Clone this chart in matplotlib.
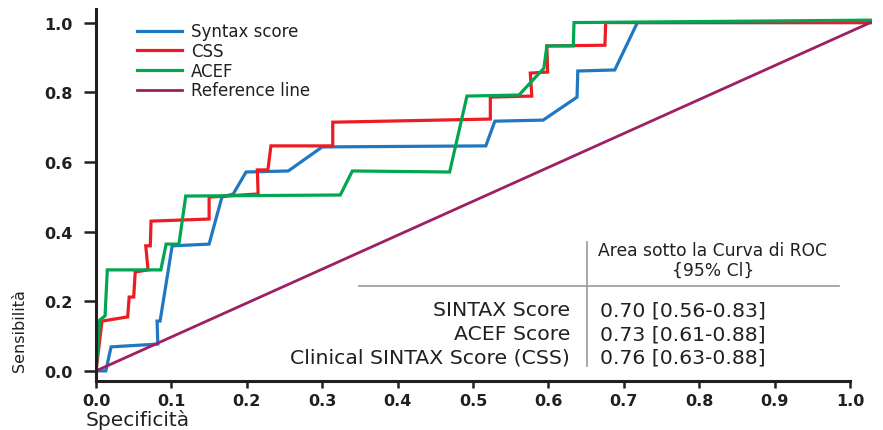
import numpy as np
import matplotlib
matplotlib.use('Agg')
import matplotlib.pyplot as plt
from matplotlib.lines import Line2D

plt.rcParams['font.family'] = ['DejaVu Sans']

# ROC curves (1 - specificity on x, sensitivity on y)
syntax_x = [0.0, 0.013, 0.020, 0.082, 0.081, 0.085, 0.101, 0.150, 0.167, 0.182, 0.199,
            0.255, 0.300, 0.517, 0.529, 0.593, 0.638, 0.639, 0.688, 0.718, 1.027]
syntax_y = [0.0, 0.0, 0.069, 0.077, 0.143, 0.143, 0.359, 0.364, 0.499, 0.508, 0.571,
            0.574, 0.643, 0.646, 0.717, 0.720, 0.786, 0.861, 0.864, 1.0, 1.0]

css_x = [0.0, 0.008, 0.042, 0.044, 0.050, 0.052, 0.069, 0.066, 0.072, 0.073, 0.150,
         0.150, 0.215, 0.214, 0.228, 0.232, 0.314, 0.314, 0.523, 0.523, 0.578, 0.576,
         0.599, 0.598, 0.675, 0.676, 1.027]
css_y = [0.0, 0.143, 0.155, 0.212, 0.212, 0.284, 0.290, 0.359, 0.359, 0.430, 0.436,
         0.499, 0.508, 0.577, 0.577, 0.646, 0.646, 0.714, 0.723, 0.786, 0.789, 0.855,
         0.858, 0.933, 0.935, 1.0, 1.0]

acef_x = [0.0, 0.005, 0.012, 0.015, 0.086, 0.093, 0.110, 0.119, 0.324, 0.340, 0.469,
          0.492, 0.561, 0.594, 0.598, 0.633, 0.634, 1.027]
acef_y = [0.0, 0.146, 0.158, 0.290, 0.290, 0.364, 0.364, 0.502, 0.505, 0.574, 0.571,
          0.789, 0.792, 0.869, 0.933, 0.933, 1.0, 1.007]

ref_x = [0.0, 1.027]
ref_y = [0.0, 1.0]

table_names = ['SINTAX Score', 'ACEF Score', 'Clinical SINTAX Score (CSS)']
table_auc = ['0.70 [0.56-0.83]', '0.73 [0.61-0.88]', '0.76 [0.63-0.88]']

W, H = 883, 431


def fx(px):
    return px / W


def fy(py):
    return 1 - py / H


fig = plt.figure(figsize=(W / 100, H / 100), dpi=100)
ax = fig.add_axes([fx(96), fy(382), (872.6 - 96) / W, (382 - 10) / H])

ax.plot(syntax_x, syntax_y, color='#1f78c1', lw=2.3, label='Syntax score', solid_joinstyle='miter')
ax.plot(css_x, css_y, color='#ed1c24', lw=2.3, label='CSS', solid_joinstyle='miter')
ax.plot(acef_x, acef_y, color='#00a651', lw=2.3, label='ACEF', solid_joinstyle='miter')
ax.plot(ref_x, ref_y, color='#9e1f63', lw=2.0, label='Reference line')

ax.set_xlim(0, 1.03)
ax.set_ylim(-0.029, 1.039)
for s in ['top', 'right']:
    ax.spines[s].set_visible(False)
ax.spines['bottom'].set_bounds(0, 1)
ax.spines['left'].set_linewidth(2.2)
ax.spines['bottom'].set_linewidth(2.2)
ax.spines['left'].set_color('#231f20')
ax.spines['bottom'].set_color('#231f20')

ax.set_xticks(np.arange(0, 1.01, 0.1))
ax.set_xticklabels(['%.1f' % v for v in np.arange(0, 1.01, 0.1)])
ax.set_yticks(np.arange(0, 1.01, 0.2))
ax.set_yticklabels(['%.1f' % v for v in np.arange(0, 1.01, 0.2)])
ax.tick_params(axis='y', length=9, width=1.8, pad=8, labelsize=11.5, colors='#231f20')
ax.tick_params(axis='x', length=5, width=1.8, pad=4, labelsize=11.5, colors='#231f20')
for t in ax.get_xticklabels() + ax.get_yticklabels():
    t.set_fontweight('bold')

fig.text(fx(20), fy(331), 'Sensibilità', rotation=90, ha='center', va='center',
         fontsize=11.5, color='#231f20')
fig.text(fx(86), fy(430), 'Specificità', ha='left', va='bottom', fontsize=14.5, color='#231f20')

leg = ax.legend(loc='upper left', bbox_to_anchor=(fx(129), fy(15)),
                bbox_transform=fig.transFigure, frameon=False, fontsize=12,
                handlelength=2.7, handletextpad=0.5, labelspacing=0.1, borderpad=0)
for t in leg.get_texts():
    t.set_color('#231f20')

# AUC table
gray = '#9a9a9a'
fig.add_artist(Line2D([fx(587), fx(587)], [fy(243), fy(367)], color=gray, lw=1.2))
fig.add_artist(Line2D([fx(359), fx(839)], [fy(287), fy(287)], color=gray, lw=1.2))
fig.text(fx(713), fy(251), 'Area sotto la Curva di ROC', ha='center', va='center',
         fontsize=12.3, color='#231f20')
fig.text(fx(713), fy(271), '{95% Cl}', ha='center', va='center', fontsize=12.3, color='#231f20')
rows_y = [311, 335, 358]
for name, auc, yy in zip(table_names, table_auc, rows_y):
    fig.text(fx(570), fy(yy), name, ha='right', va='center', fontsize=14.7, color='#231f20')
    fig.text(fx(600), fy(yy), auc, ha='left', va='center', fontsize=14.7, color='#231f20')

fig.savefig('out.png', dpi=100)
